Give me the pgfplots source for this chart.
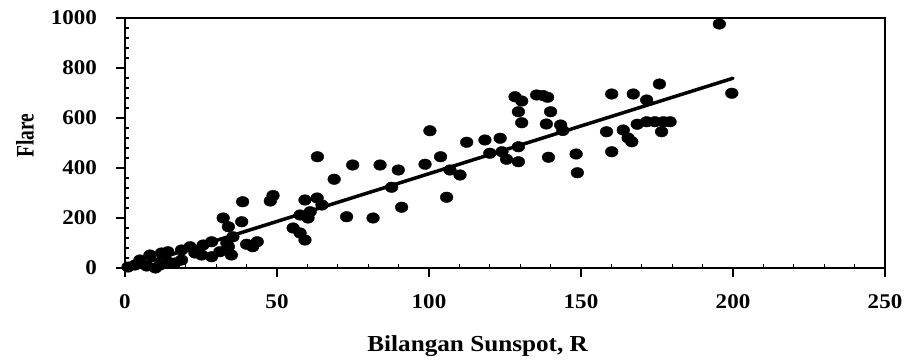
\documentclass[border=0pt]{standalone}
\usepackage{fontspec}
\setmainfont{Liberation Serif}[FakeStretch=1.1]
\newfontfamily\plainserif{Liberation Serif}
\usepackage{pgfplots}
\pgfplotsset{compat=1.18}
\begin{document}
\begin{tikzpicture}
\begin{axis}[
  at={(0,0)}, anchor=south west,
  scale only axis, width=760bp, height=250bp,
  xmin=0, xmax=250, ymin=0, ymax=1000,
  xtick={0,50,...,250}, ytick={0,200,...,1000},
  minor x tick num=4, minor y tick num=4,
  xtick pos=left, ytick pos=left,
  tick align=outside,
  major tick length=9bp, minor tick length=-4bp,
  every tick/.style={black, line width=1.2bp},
  axis line style={line width=2.5bp},
  /pgf/number format/assume math mode=true,
  /pgf/number format/1000 sep={},
  tick label style={font=\bfseries\fontsize{21}{23}\selectfont, inner sep=0pt},
  xticklabel style={anchor=north, yshift=-17bp},
  yticklabel style={anchor=east, xshift=-19bp},
  xlabel={Bilangan Sunspot, R},
  ylabel={\scalebox{1}[1.3]{Flare}},
  xlabel style={at={(axis description cs:0.464,0)}, anchor=center, yshift=-78bp, font=\bfseries\fontsize{23}{25}\selectfont},
  ylabel style={at={(axis description cs:-0.1316,0.53)}, anchor=center, font=\plainserif\bfseries\fontsize{19.5}{21}\selectfont},
  clip=false,
]
\addplot[only marks, mark=*, mark size=5.3bp, mark options={fill=black, draw=black, xscale=1.2}] coordinates {
(1,4)(3.3,12)(4.9,32)(7.1,8)(8.2,52)(10,0)(11.5,12)(12,60)(14,25)(14.1,65)
(16.4,20)(18.6,32)(18.6,72)(21.4,85)(23,60)(25.2,52)(25.7,92)(28.5,105)(28.5,45)(31.2,65)
(32.3,200)(33.5,100)(34,165)(34,85)(35,52)(35.5,125)(38.4,185)(38.7,265)(40,95)(43.5,105)(42,85)
(47.8,268)(48.7,290)(55.3,160)(57.6,140)(59.2,112)(57.6,212)(60.2,200)(60.9,225)(59.2,272)
(63.2,280)(64.8,252)(63.3,445)(68.8,355)(72.9,205)(74.9,412)(81.6,200)(83.9,412)(87.7,323)
(89.9,392)(91,243)(98.7,415)(100.3,549)(103.8,445)(105.8,283)(106.9,392)(110.2,372)(112.4,503)
(118.4,512)(120,459)(123.4,519)(124,465)(125.5,435)(129.4,485)(129.4,425)(128.3,685)(130.5,668)
(135.4,692)(137.5,690)(139,683)(129.4,625)(130.5,581)(140,625)(138.6,576)(143.3,572)(144,550)
(139.3,443)(148.4,456)(148.8,381)(158.4,545)(160.1,465)(160.1,696)(167.2,696)(163.9,552)
(165.5,520)(166.7,505)(168.5,575)(171.6,672)(171.6,585)(174.3,585)(175.8,736)(177.1,585)
(179.3,585)(176.5,545)(195.5,976)(199.6,699)
};
\addplot[black, line width=3.5bp, line cap=round] coordinates {(1.2,0) (200,759)};
\end{axis}
\pgfresetboundingbox
\path[use as bounding box] (-125bp,-96bp) rectangle (785bp,268bp);
\end{tikzpicture}
\end{document}
